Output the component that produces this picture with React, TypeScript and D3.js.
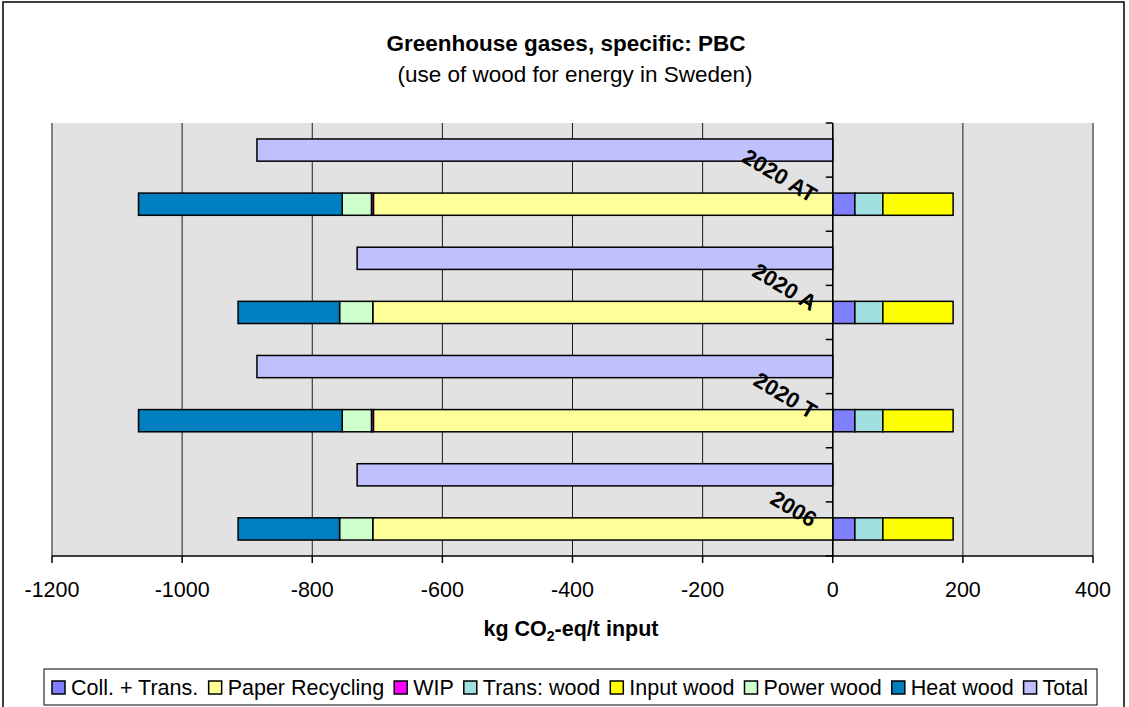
import React from "react";
import * as d3 from "d3";

const categories = ["2020 AT", "2020 A", "2020 T", "2006"];
const collTrans = [34, 34, 34, 34];
const paperRecycling = [-706, -707, -706, -707];
const wip = [-3, 0, -3, 0];
const transWood = [43, 43, 43, 43];
const inputWood = [108, 108, 108, 108];
const powerWood = [-45, -51, -45, -51];
const heatWood = [-313, -156, -313, -156];
const total = [-885, -731, -885, -731];
const xTicks = [-1200, -1000, -800, -600, -400, -200, 0, 200, 400];

const seriesNames = [
  "Coll. + Trans.",
  "Paper Recycling",
  "WIP",
  "Trans: wood",
  "Input wood",
  "Power wood",
  "Heat wood",
  "Total",
];
const seriesColors = [
  "#8080FF",
  "#FFFF99",
  "#FF00FF",
  "#A0E0E0",
  "#FFFF00",
  "#CCFFCC",
  "#0080C0",
  "#C0C0FF",
];

const FONT = "'Liberation Sans', Arial, sans-serif";
const W = 1129;
const H = 707;
const plot = { left: 52, right: 1093, top: 123, bottom: 556 };

function measure(text: string, font: string): number {
  const c = document.createElement("canvas").getContext("2d");
  if (!c) return text.length * 10;
  c.font = font;
  return c.measureText(text).width;
}

export default function App() {
  const x = d3.scaleLinear().domain([-1200, 400]).range([plot.left, plot.right]);

  const rows: string[] = [];
  categories.forEach((c) => {
    rows.push(c + "|total");
    rows.push(c + "|stack");
  });
  const y = d3
    .scaleBand<string>()
    .domain(rows)
    .range([plot.top, plot.bottom])
    .paddingInner(0.59)
    .paddingOuter(0.295);
  const step = y.step();

  const table = categories.map((c, i) => ({
    cat: c,
    s0: collTrans[i],
    s1: paperRecycling[i],
    s2: wip[i],
    s3: transWood[i],
    s4: inputWood[i],
    s5: powerWood[i],
    s6: heatWood[i],
  }));
  const keys = ["s0", "s1", "s2", "s3", "s4", "s5", "s6"];
  const stacked = d3
    .stack<any>()
    .keys(keys)
    .offset(d3.stackOffsetDiverging)(table);

  const x0 = x(0);
  const catTicks = d3.range(rows.length + 1).map((i) => plot.top + (plot.bottom - plot.top) * (i / rows.length));

  // legend layout
  const legendSize = 21.5;
  const legendFont = `${legendSize}px ${FONT}`;
  const sq = 13;
  const gapSqText = 6;
  const gapItems = 10;
  let cursor = 52;
  const legendItems = seriesNames.map((n, i) => {
    const w = measure(n, legendFont);
    const item = { name: n, color: seriesColors[i], x: cursor, w };
    cursor += sq + gapSqText + w + gapItems;
    return item;
  });

  return (
    <svg
      width={W}
      height={H}
      style={{ position: "fixed", left: 0, top: 0, background: "#fff" }}
      fontFamily={FONT}
    >
      <rect x={0} y={0} width={W} height={H} fill="#fff" />
      <rect x={3} y={2} width={1121} height={730} fill="none" stroke="#000" strokeWidth={1.5} />

      <text x={566} y={51} textAnchor="middle" fontWeight="bold" fontSize={22.5}>
        Greenhouse gases, specific: PBC
      </text>
      <text x={575} y={82} textAnchor="middle" fontSize={22.5}>
        (use of wood for energy in Sweden)
      </text>

      {/* plot background */}
      <rect
        x={plot.left}
        y={plot.top}
        width={plot.right - plot.left}
        height={plot.bottom - plot.top}
        fill="#E2E2E2"
      />
      {/* grid lines */}
      {xTicks.slice(1, -1).map((t) => (
        <line key={"g" + t} x1={x(t)} x2={x(t)} y1={plot.top} y2={plot.bottom} stroke="#1a1a1a" strokeWidth={1} />
      ))}
      <line x1={plot.left} x2={plot.left} y1={plot.top} y2={plot.bottom} stroke="#808080" strokeWidth={2} />
      <line x1={plot.right} x2={plot.right} y1={plot.top} y2={plot.bottom} stroke="#808080" strokeWidth={2} />

      {/* stacked bars */}
      {stacked.map((layer, li) =>
        layer.map((d, i) => {
          const a = x(d[0]);
          const b = x(d[1]);
          if (Math.abs(b - a) < 0.01) return null;
          return (
            <rect
              key={li + "-" + i}
              x={Math.min(a, b)}
              y={y(categories[i] + "|stack")}
              width={Math.abs(b - a)}
              height={y.bandwidth()}
              fill={seriesColors[li]}
              stroke="#000"
              strokeWidth={1.5}
            />
          );
        })
      )}
      {/* total bars */}
      {total.map((v, i) => (
        <rect
          key={"t" + i}
          x={Math.min(x(v), x0)}
          y={y(categories[i] + "|total")}
          width={Math.abs(x(v) - x0)}
          height={y.bandwidth()}
          fill={seriesColors[7]}
          stroke="#000"
          strokeWidth={1.5}
        />
      ))}

      {/* category axis */}
      <line x1={x0} x2={x0} y1={plot.top} y2={plot.bottom} stroke="#000" strokeWidth={1.5} />
      {catTicks.map((t, i) => (
        <line key={"ct" + i} x1={x0 - 7} x2={x0} y1={t} y2={t} stroke="#000" strokeWidth={1.5} />
      ))}
      {categories.map((c, k) => {
        const ty = plot.top + step * (2 * k + 1);
        const px = x0 - 22;
        const py = ty + 26;
        return (
          <text
            key={"cl" + c}
            x={px}
            y={py}
            textAnchor="end"
            fontWeight="bold"
            fontSize={22}
            transform={`rotate(31 ${px} ${py})`}
          >
            {c}
          </text>
        );
      })}

      {/* x axis */}
      <line x1={plot.left} x2={plot.right} y1={plot.bottom} y2={plot.bottom} stroke="#000" strokeWidth={1.5} />
      {xTicks.map((t) => (
        <g key={"xt" + t}>
          <line x1={x(t)} x2={x(t)} y1={plot.bottom} y2={plot.bottom + 7} stroke="#000" strokeWidth={1.5} />
          <text x={x(t)} y={597} textAnchor="middle" fontSize={21.5}>
            {t}
          </text>
        </g>
      ))}
      <text x={571} y={636} textAnchor="middle" fontWeight="bold" fontSize={21.5}>
        kg CO
        <tspan fontSize={14} dy={5}>
          2
        </tspan>
        <tspan dy={-5}>-eq/t input</tspan>
      </text>

      {/* legend */}
      <rect x={44} y={669} width={1053} height={36} fill="#fff" stroke="#000" strokeWidth={1} />
      {legendItems.map((it) => (
        <g key={"lg" + it.name}>
          <rect x={it.x} y={681} width={sq} height={sq} fill={it.color} stroke="#000" strokeWidth={1.5} />
          <text x={it.x + sq + gapSqText} y={695} fontSize={legendSize}>
            {it.name}
          </text>
        </g>
      ))}
    </svg>
  );
}
